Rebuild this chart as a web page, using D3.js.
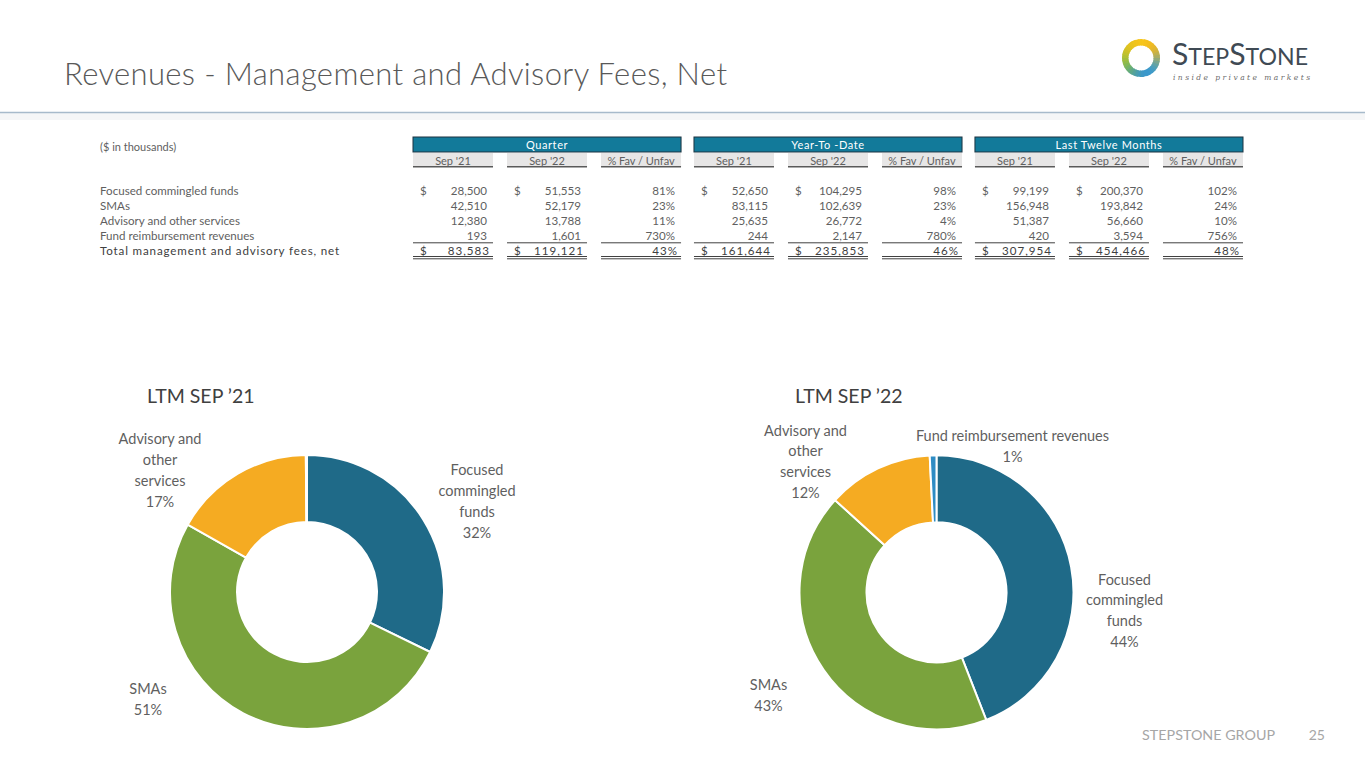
<!DOCTYPE html>
<html>
<head>
<meta charset="UTF-8">
<script src="https://cdn.jsdelivr.net/npm/d3@7/dist/d3.min.js"></script>
<style>
  body { margin: 0; background: #fff; }
  text { font-family: Lato, "Open Sans", sans-serif; }
</style>
</head>
<body>
<svg id="slide" width="1365" height="768"></svg>
<script>
// ---- data ----
const rowLabels = ["Focused commingled funds", "SMAs", "Advisory and other services", "Fund reimbursement revenues"];
const totalLabel = "Total management and advisory fees, net";
const periods = ["Quarter", "Year-To -Date", "Last Twelve Months"];
const colHeads = ["Sep '21", "Sep '22", "% Fav / Unfav"];

// last value of each array is the total row
const qtrSep21 = [28500, 42510, 12380, 193, 83583];
const qtrSep22 = [51553, 52179, 13788, 1601, 119121];
const qtrPct   = [81, 23, 11, 730, 43];
const ytdSep21 = [52650, 83115, 25635, 244, 161644];
const ytdSep22 = [104295, 102639, 26772, 2147, 235853];
const ytdPct   = [98, 23, 4, 780, 46];
const ltmSep21 = [99199, 156948, 51387, 420, 307954];
const ltmSep22 = [200370, 193842, 56660, 3594, 454466];
const ltmPct   = [102, 24, 10, 756, 48];

const donutTitles = ["LTM SEP \u201921", "LTM SEP \u201922"];
const sliceColors = ["#1f6a88", "#7aa33d", "#f5ab22", "#2e8cc4"];
const sliceLabelLines = [["Focused", "commingled", "funds"], ["SMAs"], ["Advisory and", "other", "services"], ["Fund reimbursement revenues"]];

// ---- layout ----
const svg = d3.select("#slide");
const textGrey = "#5f5f5f";

// header
svg.append("text").attr("x", 64).attr("y", 85)
    .attr("textLength", 663).attr("lengthAdjust", "spacing")
    .style("font-size", "31px").style("font-weight", 300).attr("fill", "#595959")
    .text("Revenues - Management and Advisory Fees, Net");
svg.append("rect").attr("x", 0).attr("y", 113).attr("width", 1365).attr("height", 7).attr("fill", "#f5f6f7");
svg.append("line").attr("x1", 0).attr("x2", 1365).attr("y1", 112.5).attr("y2", 112.5)
    .attr("stroke", "#a7bacb").attr("stroke-width", 1.5);

// logo
const logo = svg.append("g").attr("transform", "translate(1141,58)");
const ringColor = d3.interpolateRgbBasis(["#f7c51b", "#f2b41f", "#2f9fd6", "#3a8fd0", "#7bbf44", "#e9c21d", "#f7c51b"]);
const ringArc = d3.arc().innerRadius(12.5).outerRadius(19);
d3.range(36).forEach(i => {
  logo.append("path")
      .attr("d", ringArc({startAngle: i / 36 * 2 * Math.PI, endAngle: (i + 1.3) / 36 * 2 * Math.PI}))
      .attr("fill", ringColor(i / 36));
});
const brand = svg.append("text").attr("x", 1172).attr("y", 65).attr("fill", "#3f4a54")
    .attr("textLength", 136).attr("lengthAdjust", "spacingAndGlyphs");
[["S", 30], ["TEP", 23], ["S", 30], ["TONE", 23]].forEach(([t, s]) => {
  brand.append("tspan").style("font-size", s + "px").text(t);
});
svg.append("text").attr("x", 1173).attr("y", 80).attr("fill", "#6b6b6b")
    .attr("textLength", 137).attr("lengthAdjust", "spacing")
    .style("font-family", "DejaVu Serif, serif").style("font-style", "italic").style("font-size", "7.5px")
    .text("inside private markets");

// ---- table ----
svg.append("text").attr("x", 100).attr("y", 146).attr("dominant-baseline", "central")
    .style("font-size", "11px").attr("fill", textGrey).text("($ in thousands)");

const groupX = d3.scaleBand().domain(periods).range([413, 1243]).paddingInner(0.046);
const colX = d3.scaleBand().domain(colHeads).range([0, groupX.bandwidth()]).paddingInner(0.149);
const rowY = d3.scalePoint().domain(d3.range(5)).range([190.5, 250.5]);
const fmt = d3.format(",");

const tableCols = [
  [qtrSep21, qtrSep22, qtrPct],
  [ytdSep21, ytdSep22, ytdPct],
  [ltmSep21, ltmSep22, ltmPct]
];

rowLabels.forEach((r, i) => {
  svg.append("text").attr("x", 100).attr("y", rowY(i)).attr("dominant-baseline", "central")
      .style("font-size", "11.6px").attr("fill", textGrey).text(r);
});
svg.append("text").attr("x", 100).attr("y", rowY(4)).attr("dominant-baseline", "central")
    .style("font-size", "11.6px").style("letter-spacing", "0.85px").attr("fill", "#404040").text(totalLabel);

periods.forEach((p, gi) => {
  const gx = groupX(p);
  const g = svg.append("g").attr("transform", `translate(${gx},0)`);
  g.append("rect").attr("x", 0).attr("y", 137).attr("width", groupX.bandwidth()).attr("height", 15)
      .attr("fill", "#127a9a").attr("stroke", "#1d3340").attr("stroke-width", 1);
  g.append("text").attr("x", groupX.bandwidth() / 2).attr("y", 144.5).attr("text-anchor", "middle")
      .attr("dominant-baseline", "central").style("font-size", "11px").style("letter-spacing", "0.6px")
      .attr("fill", "#fff").text(p);

  colHeads.forEach((c, ci) => {
    const x0 = colX(c), w = colX.bandwidth();
    g.append("rect").attr("x", x0).attr("y", 153).attr("width", w).attr("height", 13.5).attr("fill", "#e7e6e6");
    g.append("line").attr("x1", x0).attr("x2", x0 + w).attr("y1", 166.8).attr("y2", 166.8)
        .attr("stroke", "#5a5a5a").attr("stroke-width", 1.4);
    g.append("text").attr("x", x0 + w / 2).attr("y", 160).attr("text-anchor", "middle")
        .attr("dominant-baseline", "central").style("font-size", "11px").attr("fill", textGrey).text(c);

    const vals = tableCols[gi][ci];
    const isPct = ci === 2;
    vals.forEach((v, ri) => {
      const total = ri === 4;
      g.append("text").attr("x", x0 + w - (total ? 3 : 6)).attr("y", rowY(ri))
          .attr("text-anchor", "end").attr("dominant-baseline", "central")
          .style("font-size", "11.6px").style("letter-spacing", total ? "1px" : "0px")
          .attr("fill", total ? "#404040" : textGrey)
          .text(isPct ? v + "%" : fmt(v));
      if (!isPct && (ri === 0 || total)) {
        g.append("text").attr("x", x0 + 7).attr("y", rowY(ri)).attr("dominant-baseline", "central")
            .style("font-size", "11.6px").attr("fill", total ? "#404040" : textGrey).text("$");
      }
    });
    g.append("line").attr("x1", x0).attr("x2", x0 + w).attr("y1", 242.8).attr("y2", 242.8)
        .attr("stroke", "#404040").attr("stroke-width", 1);
    [256.5, 258.8].forEach(y => {
      g.append("line").attr("x1", x0).attr("x2", x0 + w).attr("y1", y).attr("y2", y)
          .attr("stroke", "#404040").attr("stroke-width", 1);
    });
  });
});

// ---- donuts ----
const donutData = [ltmSep21.slice(0, 4), ltmSep22.slice(0, 4)];
const donutCenters = [[307, 592], [936.5, 592.3]];
const titleX = [147, 795];
// label block centres relative to each donut centre (null = no label)
const labelOffsets = [
  [[170, -91], [-159, 107], [-147, -122], null],
  [[188, 18], [-168, 103], [-131, -131], [76, -146]]
];
const pie = d3.pie().sort(null).value(d => d);
const arc = d3.arc().innerRadius(70).outerRadius(137);
const pctFmt = d3.format(".0%");
const lineH = 20.8;

donutData.forEach((vals, di) => {
  const [cx, cy] = donutCenters[di];
  const sum = d3.sum(vals);
  svg.append("text").attr("x", titleX[di]).attr("y", 403)
      .style("font-size", "19.5px").attr("fill", "#404040").text(donutTitles[di]);

  const g = svg.append("g").attr("transform", `translate(${cx},${cy})`);
  g.selectAll("path").data(pie(vals)).join("path")
      .attr("d", arc)
      .attr("fill", (d, i) => sliceColors[i])
      .attr("stroke", "#fff").attr("stroke-width", 2);

  pie(vals).forEach((d, i) => {
    const off = labelOffsets[di][i];
    if (!off) return;
    const lines = sliceLabelLines[i].concat([pctFmt(d.value / sum)]);
    const y0 = off[1] - (lines.length - 1) / 2 * lineH;
    const t = g.append("text").attr("text-anchor", "middle")
        .style("font-size", "14.5px").attr("fill", textGrey);
    lines.forEach((l, li) => {
      t.append("tspan").attr("x", off[0]).attr("y", y0 + li * lineH)
          .attr("dominant-baseline", "central").text(l);
    });
  });
});

// footer
svg.append("text").attr("x", 1275).attr("y", 734).attr("text-anchor", "end").attr("dominant-baseline", "central")
    .style("font-size", "14.3px").attr("fill", "#a6a6a6").text("STEPSTONE GROUP");
svg.append("text").attr("x", 1325).attr("y", 734).attr("text-anchor", "end").attr("dominant-baseline", "central")
    .style("font-size", "14px").attr("fill", "#a6a6a6").text("25");
</script>
</body>
</html>
